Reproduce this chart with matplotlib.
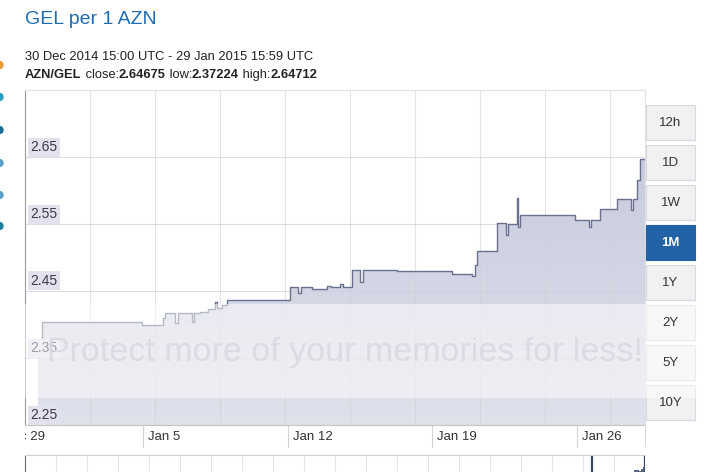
import matplotlib
matplotlib.use('Agg')
import matplotlib.pyplot as plt
from matplotlib.patches import Rectangle, Circle
from matplotlib.colors import LinearSegmentedColormap
from matplotlib.transforms import Bbox, TransformedBbox
import numpy as np

plt.rcParams['font.family'] = ['Liberation Sans', 'DejaVu Sans']

# days since 29 Dec 2014 00:00 where the rate changes (step "post")
days = [1.92, 2.11, 6.95, 7.97, 8.06, 8.55, 8.69, 9.37, 9.47, 9.76, 10.14,
        10.48, 10.58, 10.82, 11.06, 14.11, 14.50, 14.64, 15.18, 15.90, 16.10,
        16.53, 16.68, 17.10, 17.51, 17.64, 19.29, 21.95, 22.92, 23.06, 23.16,
        24.13, 24.56, 24.66, 25.09, 25.14, 25.24, 27.90, 28.58, 28.68, 29.11,
        29.93, 30.61, 30.71, 30.90, 31.05]
rates = [2.3722, 2.404, 2.399, 2.410, 2.417, 2.402, 2.417, 2.403, 2.417, 2.418, 2.423,
         2.434, 2.425, 2.429, 2.437, 2.456, 2.447, 2.456, 2.453, 2.458, 2.456,
         2.460, 2.456, 2.481, 2.464, 2.481, 2.480, 2.475, 2.473, 2.489, 2.509,
         2.551, 2.533, 2.550, 2.589, 2.546, 2.563, 2.556, 2.546, 2.556, 2.572,
         2.588, 2.571, 2.588, 2.616, 2.647]
close_day = 31.29
close_rate = 2.64675

tick_days = [0, 7, 14, 21, 28]
tick_labels = ['Dec 29', 'Jan 5', 'Jan 12', 'Jan 19', 'Jan 26']
y_ticks = [2.25, 2.35, 2.45, 2.55, 2.65]
ranges = ['12h', '1D', '1W', '1M', '1Y', '2Y', '5Y', '10Y']
active = '1M'

W, H = 704, 472
fig = plt.figure(figsize=(W / 100, H / 100), dpi=100)


def rect(x0, y0, x1, y1):
    return [x0 / W, 1 - y1 / H, (x1 - x0) / W, (y1 - y0) / H]


x = np.array(days + [close_day])
y = np.array(rates + [close_rate])
x0, x1 = close_day - 30, close_day

ax = fig.add_axes(rect(25, 90, 645, 425))
poly = ax.fill_between(x, y, 2.25, step='post', color='#cfd2e2', lw=0)
grad = np.linspace(0, 1, 256).reshape(-1, 1)
cmap = LinearSegmentedColormap.from_list('g', ['#dfe1eb', '#c3c6da'])
im = ax.imshow(grad, extent=[x0, x1, 2.25, 2.75], aspect='auto', cmap=cmap,
               origin='lower', zorder=1)
im.set_clip_path(poly.get_paths()[0], ax.transData)
poly.set_visible(False)
ax.step(x, y, where='post', color='#6a7190', lw=1.0, zorder=3)

for k in range(1, 10):
    ax.axvline(x0 + k * 30 * 65 / 620, color='#cfd0d8', lw=0.8, alpha=0.6, zorder=2)
for v in y_ticks[1:]:
    ax.axhline(v, color='#cfd0d8', lw=0.8, alpha=0.7, zorder=2)

ax.set_xlim(x0, x1)
ax.set_ylim(2.25, 2.75)
ax.set_xticks([])
ax.set_yticks([])
ax.spines['left'].set_color('#9c9c9c')
ax.spines['bottom'].set_color('#c4c4c4')
ax.spines['top'].set_color('#e2e2e2')
ax.spines['right'].set_color('#e2e2e2')

for v in y_ticks:
    ax.annotate(f'{v:.2f}', xy=(0, v), xycoords=ax.get_yaxis_transform(),
                xytext=(5, 3), textcoords='offset pixels', ha='left', va='bottom',
                fontsize=10, color='#3a3a4a', zorder=4,
                bbox=dict(boxstyle='square,pad=0.18', fc='#e2e2ee', ec='none'))

clip = TransformedBbox(Bbox([[0, -0.3], [1, 0]]), ax.transAxes)
for d, lab in zip(tick_days, tick_labels):
    t = ax.text(d + 5 / 620 * 30, -12 / 335, lab, transform=ax.get_xaxis_transform(),
                ha='left', va='center', fontsize=9.5, color='#333333')
    t.set_clip_on(True)
    t.set_clip_box(clip)
    if x0 < d < x1:
        ax.plot([d, d], [0, -22 / 335], transform=ax.get_xaxis_transform(),
                color='#d4d4d4', lw=0.8, clip_on=False)

# navigator strip
nav = fig.add_axes(rect(25, 455, 645, 472))
nav.fill_between(x, y, 2.5, step='post', color='#5b6789', lw=0)
nav.set_xlim(close_day - 351, close_day)
nav.set_ylim(2.55, 2.67)
for k in range(1, 20):
    nav.axvline(close_day - 351 + k * 351 * 31 / 620, color='#e4e4e4', lw=0.8)
nav.axvline(x0, color='#3b4663', lw=1.6)
nav.axvline(x1, color='#3b4663', lw=1.6)
nav.set_xticks([])
nav.set_yticks([])
nav.spines['left'].set_color('#6a6a6a')
nav.spines['top'].set_color('#d0d0d0')
nav.spines['right'].set_visible(False)
nav.spines['bottom'].set_visible(False)

# overlay in pixel coordinates
ov = fig.add_axes([0, 0, 1, 1])
ov.set_xlim(0, W)
ov.set_ylim(H, 0)
ov.axis('off')

ov.plot([645, 645], [425, 446], color='#d8d8d8', lw=0.8)

for i, lab in enumerate(ranges):
    top = 105 + i * 40
    on = lab == active
    ov.add_patch(Rectangle((646, top), 49, 35, fc='#2163a6' if on else '#f1f1f4',
                           ec='#2163a6' if on else '#d8d8de', lw=0.8))
    ov.text(670.5, top + 18, lab, ha='center', va='center', fontsize=9.5,
            color='white' if on else '#333333', fontweight='bold' if on else 'normal')

for yy, c in [(65, '#e89a3a'), (97, '#2b9cc0'), (130, '#1f6e96'), (163, '#5aa0c8'),
              (195, '#5aa0c8'), (226, '#1f7ea0')]:
    ov.add_patch(Circle((-0.5, yy), 3.5, color=c))

# watermark band
ov.add_patch(Rectangle((0, 304), W, 94, fc='white', alpha=0.5, lw=0))
ov.text(345, 353, 'Protect more of your memories for less!', ha='center', va='center',
        fontsize=24.5, color='#d6d7e0', alpha=0.8)

# header
fig.text(25 / W, 1 - 20 / H, 'GEL per 1 AZN', ha='left', va='center',
         fontsize=14, color='#1f6db3')
fig.text(25 / W, 1 - 57 / H, '30 Dec 2014 15:00 UTC - 29 Jan 2015 15:59 UTC',
         ha='left', va='center', fontsize=9.25, color='#222222')

parts = [('AZN/GEL', 'bold'), (' close:', 'normal'), ('2.64675', 'bold'),
         (' low:', 'normal'), ('2.37224', 'bold'), (' high:', 'normal'),
         ('2.64712', 'bold')]
r = fig.canvas.get_renderer()
xpos = 25
for s, w in parts:
    t = fig.text(xpos / W, 1 - 75 / H, s, ha='left', va='center', fontsize=9.3,
                 color='#222222', fontweight=w)
    xpos = t.get_window_extent(renderer=r).x1

fig.savefig('out.png', dpi=100)
